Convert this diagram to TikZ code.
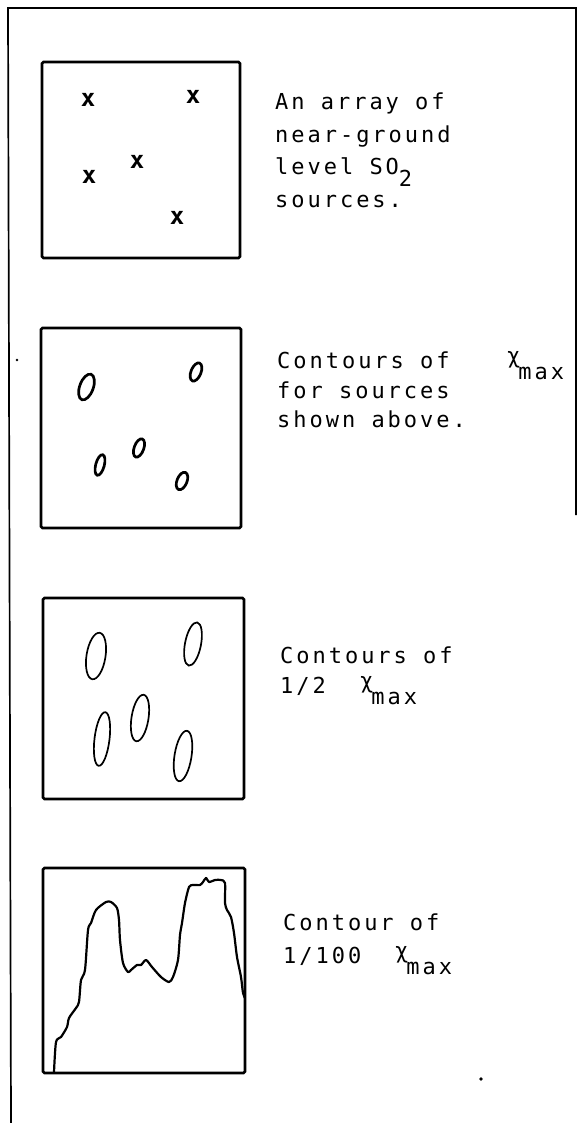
\documentclass[tikz,border=0pt]{standalone}
\usepackage{fontspec}
\newfontfamily\tw[LetterSpace=13.5]{DejaVu Sans Mono}
\newfontfamily\twb{DejaVu Sans Mono}
\newcommand\sub[1]{\raisebox{-11.5pt}{#1}}
\newcommand\chimax{\raisebox{5pt}{\fontsize{22}{22}\selectfont χ}\hspace{-2pt}\sub{max}}
\begin{document}
\begin{tikzpicture}[x=1pt,y=-1pt,
  frame/.style={line width=1.7pt},
  panel/.style={line width=2.8pt, rounded corners=1.5pt},
  blob/.style={line width=2.7pt},
  oval/.style={line width=1.7pt},
  curve/.style={line width=2.2pt, line join=round},
  lbl/.style={anchor=base west, inner sep=0pt, font=\tw\fontsize{22}{24}\selectfont},
  src/.style={inner sep=0pt, font=\twb\bfseries\fontsize{24}{24}\selectfont},
  speck/.style={fill=black}]
\useasboundingbox (0,0) rectangle (579,1123);
% outer frame
\draw[frame] (11,1123) -- (8,8) -- (576,8) -- (576,515);
% ---- panel 1: sources
\draw[panel] (42,62) rectangle (240,258);
\node[src] (s1) at (88,100) {x};
\node[src] (s2) at (193,97) {x};
\node[src] (s3) at (137,162) {x};
\node[src] (s4) at (89,177) {x};
\node[src] (s5) at (177,218) {x};
\node[lbl] (t1a) at (275,110) {An array of};
\node[lbl] (t1b) at (275,143) {near-ground};
\node[lbl] (t1c) at (275,175) {level SO\sub{2}};
\node[lbl] (t1d) at (275,208) {sources.};
% ---- panel 2: contours of chi max
\draw[panel] (41,328) rectangle (241,528);
\draw[blob, rotate around={-20:(86.5,387)}] (86.5,387) ellipse [x radius=6.8pt, y radius=13.5pt];
\draw[blob, rotate around={-22:(196,372)}] (196,372) ellipse [x radius=5pt, y radius=9.6pt];
\draw[blob, rotate around={-20:(139,448)}] (139,448) ellipse [x radius=4.8pt, y radius=9.6pt];
\draw[blob, rotate around={-15:(100,465)}] (100,465) ellipse [x radius=4.3pt, y radius=10.6pt];
\draw[blob, rotate around={-22:(182,481)}] (182,481) ellipse [x radius=5pt, y radius=9.2pt];
\node[lbl] (t2a) at (277,368) {Contours of};
\node[lbl] (t2x) at (507,368) {\chimax};
\node[lbl] (t2b) at (277,398) {for sources};
\node[lbl] (t2c) at (277,427) {shown above.};
% ---- panel 3: half chi max
\draw[panel] (43,598) rectangle (244,799);
\draw[oval, rotate around={-9:(96,656)}] (96,656) ellipse [x radius=9.5pt, y radius=23.5pt];
\draw[oval, rotate around={-11:(193,644)}] (193,644) ellipse [x radius=8pt, y radius=22pt];
\draw[oval, rotate around={-9:(140,718)}] (140,718) ellipse [x radius=8.5pt, y radius=23.5pt];
\draw[oval, rotate around={-7:(102,739)}] (102,739) ellipse [x radius=7.5pt, y radius=27pt];
\draw[oval, rotate around={-9:(183,756)}] (183,756) ellipse [x radius=8.5pt, y radius=25.5pt];
\node[lbl] (t3a) at (280,663) {Contours of};
\node[lbl] (t3b) at (280,693) {1/2};
\node[lbl] (t3x) at (360,693) {\chimax};
% ---- panel 4: 1/100 chi max
\draw[panel] (43,868) rectangle (245,1073);
\draw[curve] plot[smooth, tension=0.45] coordinates {
 (54,1072) (56,1042) (61,1037) (67,1027) (69,1018) (76,1008) (79,1002)
 (81,980) (85,970) (88,930) (91,923) (96,910) (106,902) (111,902)
 (117,908) (119,920) (120,940) (123,963) (128,972) (131,970) (137,965)
 (141,965) (146,960) (152,967) (161,977) (169,982) (173,977) (178,960)
 (180,935) (182,923) (185,903) (189,887) (193,885) (200,885) (203,882)
 (206,878) (209,882) (215,880) (221,880) (225,883) (225,903) (227,910)
 (231,917) (234,933) (237,957) (241,977) (243,993) (245,998)};
\node[lbl] (t4a) at (283,930) {Contour of};
\node[lbl] (t4b) at (283,963) {1/100};
\node[lbl] (t4x) at (395,963) {\chimax};
% specks
\fill[speck] (17,360) circle (1.4pt);
\fill[speck] (481,1079) circle (1.8pt);
\end{tikzpicture}
\end{document}
